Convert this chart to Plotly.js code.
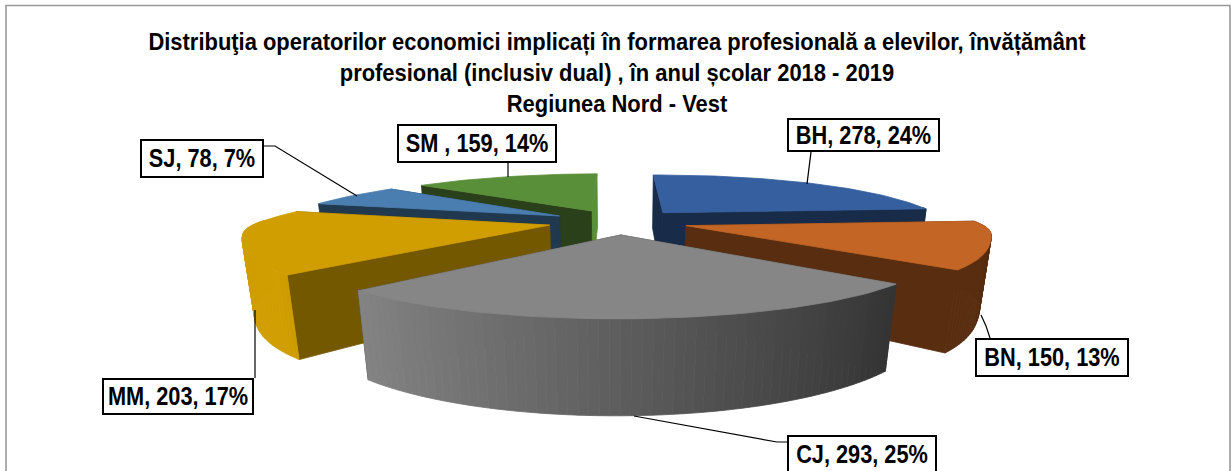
<!DOCTYPE html>
<html><head><meta charset="utf-8">
<script src="https://cdn.plot.ly/plotly-3.0.1.min.js"></script>
<style>html,body{margin:0;padding:0;background:#fff}</style></head>
<body><div id="chart" style="width:1231px;height:471px"></div>
<script>
// ---- data ----
const categories = ["BH", "BN", "CJ", "MM", "SJ", "SM"];
const values = [278, 150, 293, 203, 78, 159];
const percents = [24, 13, 25, 17, 7, 14];
const labelNames = ["BH", "BN", "CJ", "MM", "SJ", "SM "];
const titleLines = [
  "Distribuţia operatorilor economici implicați în formarea profesională a elevilor, învățământ",
  "profesional (inclusiv dual) , în anul școlar 2018 - 2019",
  "Regiunea Nord - Vest"
];
// ---- styling ----
const topColors = ["#355F9F", "#C36524", "#868686", "#D09E00", "#4A7EB0", "#5A8F39"];
const drawOrder = ["SM", "SJ", "BH", "MM", "BN", "CJ"];
const labelBoxes = {BH:[787,118,940,152], BN:[975,338,1129,377], CJ:[787,435,937,474],
                    MM:[102,378,254,415], SJ:[140,139,264,178], SM:[397,124,557,163]};
const leaders = {
  BH:[[811,152],[807,184]], BN:[[981,315],[986,326],[990,338]], CJ:[[634,416],[777,442],[787,442]],
  MM:[[255,310],[255,378]], SJ:[[264,146],[275,146],[357,196]], SM:[[508,163],[508,177]]
};
const fontStack = "Liberation Sans, Arial, sans-serif";
// ---- pie projection ----
const view = {ox:618.5, oy:221.6, f:282, k:0.27, tilt:0.185, wall:0.2495, wallDepth:0.03, explode:0.24, start:-1, bulge:0.035, skew:3.5, skewFront:6};
function project(X, Y, low) {
  const d = 1 + view.k * Y + (low ? view.wallDepth : 0);
  const b = 1 + view.bulge * Math.exp(-Math.pow((Y + 0.07) / 0.25, 2));
  return [view.ox + (Y < 0 ? view.skewFront : view.skew) * Y + X * b * view.f / d,
          view.oy - view.tilt * Y * view.f / d + (low ? view.wall * view.f / d : 0)];
}
function hexRgb(h){return [1,3,5].map(i=>parseInt(h.substr(i,2),16));}
function shade(h,t){return "rgb("+hexRgb(h).map(c=>Math.round(c*t)).join(",")+")";}
function polygon(pts, color, name){
  const ring = pts.concat([pts[0]]);
  return {type:"scatter", mode:"lines", x:ring.map(p=>p[0]), y:ring.map(p=>p[1]), fill:"toself",
    fillcolor:color, line:{color:color,width:0.8}, hoverinfo:"skip", showlegend:false, name:name};
}
const total = values.reduce((a,b)=>a+b,0);
const rad = Math.PI/180;
let cursor = view.start;
const slices = {};
categories.forEach((c,i)=>{
  const a0 = cursor, a1 = cursor + values[i]/total*360; cursor = a1;
  slices[c] = {a0, a1, mid:(a0+a1)/2, i};
});
const traces = [];
drawOrder.forEach(c=>{
  const s = slices[c], base = topColors[s.i];
  const ax = view.explode*Math.sin(s.mid*rad), ay = view.explode*Math.cos(s.mid*rad);
  const rim = a => [ax+Math.sin(a*rad), ay+Math.cos(a*rad)];
  const n = Math.max(4, Math.round((s.a1-s.a0)/1.5));
  const angs = []; for(let j=0;j<=n;j++) angs.push(s.a0+(s.a1-s.a0)*j/n);
  const wall = a => { const r = rim(a);
    return [project(ax,ay,false),project(r[0],r[1],false),project(r[0],r[1],true),project(ax,ay,true)]; };
  const walls = [s.a0,s.a1].sort((p,q)=>rim(q)[1]-rim(p)[1]);
  walls.forEach(a=>{
    const facesLeft = Math.cos(a*rad) > 0.8 && a > 300;
    const t = facesLeft ? 1 : (c==="MM" ? 0.56 : 0.45);
    traces.push(polygon(wall(a), shade(base,t), c+" wall"));
  });
  const floor = c==="CJ" ? 0.38 : 0.45;
  for(let j=0;j<n;j++){
    const m=(angs[j]+angs[j+1])/2;
    if(Math.cos(m*rad)>0.1) continue;
    const p=rim(angs[j]), q=rim(angs[j+1]);
    const t=Math.max(floor,Math.min(1,0.70-0.42*Math.sin(m*rad)));
    traces.push(polygon([project(p[0],p[1],false),project(q[0],q[1],false),project(q[0],q[1],true),project(p[0],p[1],true)],shade(base,t),c+" rim"));
  }
  const topPts=[project(ax,ay,false)].concat(angs.map(a=>{const r=rim(a);return project(r[0],r[1],false);}));
  traces.push(polygon(topPts, base, c));
});
categories.forEach(c=>{
  traces.push({type:"scatter",mode:"lines",x:leaders[c].map(p=>p[0]),y:leaders[c].map(p=>p[1]),
    line:{color:"#000",width:1.2},hoverinfo:"skip",showlegend:false});
});
const annotations = categories.map((c,i)=>{
  const b = labelBoxes[c];
  return {
    x:(b[0]+b[2])/2, y:(b[1]+b[3])/2, xref:"x", yref:"y", showarrow:false,
    width:b[2]-b[0]-4, height:b[3]-b[1]-4, align:"center", valign:"middle",
    text:labelNames[i]+", "+values[i]+", "+percents[i]+"%",
    font:{family:fontStack,size:25,color:"#000",weight:700},
    bgcolor:"#fff", bordercolor:"#000", borderwidth:2, borderpad:0
  };
});
const layout = {
  width:1231, height:471, margin:{l:0,r:0,t:0,b:0}, paper_bgcolor:"#fff", plot_bgcolor:"#fff", showlegend:false,
  xaxis:{range:[0,1231],visible:false,fixedrange:true},
  yaxis:{range:[471,0],visible:false,fixedrange:true},
  title:{text:titleLines.join("<br>"), x:617/1231, xanchor:"center", y:0.894, yanchor:"top",
    font:{family:fontStack,size:24,color:"#000",weight:700}},
  annotations:annotations,
  shapes:[{type:"rect",xref:"x",yref:"y",x0:6,y0:5.5,x1:1230,y1:490,line:{color:"#999",width:1.6},fillcolor:"rgba(0,0,0,0)",layer:"below"}]
};
function squeeze(el, factor){
  const b = el.getBBox(), cx = b.x + b.width/2;
  el.removeAttribute("clip-path");
  el.setAttribute("transform","translate("+cx+",0) scale("+factor+",1) translate("+(-cx)+",0)");
}
Plotly.newPlot("chart",traces,layout,{displayModeBar:false,staticPlot:true}).then(gd=>{
  gd.querySelectorAll(".gtitle").forEach(el=>squeeze(el,0.914));
  gd.querySelectorAll(".annotation-text").forEach(el=>squeeze(el,0.87));
});
</script></body></html>
